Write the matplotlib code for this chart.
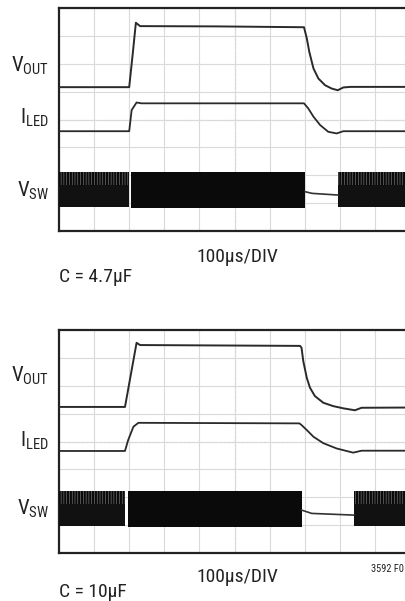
import numpy as np
import matplotlib
matplotlib.use('Agg')
import matplotlib.pyplot as plt

plt.rcParams['font.family'] = ['Roboto Condensed', 'DejaVu Sans']
plt.rcParams['mathtext.fontset'] = 'custom'
plt.rcParams['mathtext.rm'] = 'Roboto Condensed'
plt.rcParams['hatch.linewidth'] = 1.6

# ---- data (scope divisions: x 0..10, y 0..8) ----
# C = 4.7uF
vout1_x = [0, 2.0, 2.1, 2.19, 2.31, 4.5, 6.98, 7.06, 7.13, 7.25, 7.39, 7.58, 7.77, 7.94, 8.10, 8.3, 10.2]
vout1_y = [5.16, 5.16, 6.35, 7.47, 7.35, 7.34, 7.31, 6.91, 6.43, 5.83, 5.47, 5.23, 5.11, 5.05, 5.15, 5.17, 5.17]
iled1_x = [0, 2.0, 2.07, 2.21, 2.35, 6.98, 7.10, 7.25, 7.44, 7.67, 7.91, 8.10, 10.2]
iled1_y = [3.58, 3.58, 4.34, 4.61, 4.58, 4.58, 4.40, 4.10, 3.80, 3.56, 3.50, 3.58, 3.58]
vsw1_band = (0.87, 2.13)
vsw1_sparse = [(0, 2.0), (7.96, 10.2)]
vsw1_dense = [(2.05, 7.01)]
vsw1_off_x = [7.01, 7.21, 7.95]
vsw1_off_y = [1.41, 1.35, 1.29]

# C = 10uF
vout2_x = [0, 1.88, 2.21, 2.31, 6.87, 6.91, 6.96, 7.06, 7.15, 7.29, 7.53, 7.81, 8.10, 8.43, 8.62, 10.2]
vout2_y = [5.24, 5.24, 7.54, 7.46, 7.43, 7.36, 6.88, 6.28, 5.93, 5.63, 5.39, 5.27, 5.19, 5.12, 5.21, 5.22]
iled2_x = [0, 1.88, 1.97, 2.12, 2.26, 6.85, 6.91, 7.06, 7.25, 7.53, 7.91, 8.38, 8.62, 10.2]
iled2_y = [3.66, 3.66, 4.05, 4.53, 4.67, 4.65, 4.59, 4.41, 4.17, 3.94, 3.75, 3.60, 3.67, 3.67]
vsw2_band = (0.97, 2.22)
vsw2_sparse = [(0, 1.88), (8.40, 10.2)]
vsw2_dense = [(1.97, 6.91)]
vsw2_off_x = [6.91, 7.20, 8.40]
vsw2_off_y = [1.54, 1.42, 1.36]

W, H = 405, 601
fig = plt.figure(figsize=(W / 100, H / 100), dpi=100)


def px_ax(left, top, bottom, width=351):
    return fig.add_axes([left / W, 1 - bottom / H, width / W, (bottom - top) / H])


def scope(ax, vx, vy, ix, iy, band, sparse, dense, offx, offy):
    ax.set_xlim(0, 10)
    ax.set_ylim(0, 8)
    ax.set_xticks(np.arange(1, 10))
    ax.set_yticks(np.arange(1, 8))
    ax.tick_params(length=0, labelbottom=False, labelleft=False)
    ax.grid(True, color='#dadada', lw=0.8)
    ax.axvline(5, color='#a0a0a0', lw=0.8, ls=(0, (2, 2)), zorder=1)
    ax.axhline(4, color='#a0a0a0', lw=0.8, ls=(0, (2, 2)), zorder=1)
    for s in ax.spines.values():
        s.set_color('#222222')
        s.set_linewidth(1.6)

    lo, hi = band
    split = lo + 0.62 * (hi - lo)
    for a, b in sparse:
        ax.fill_between([a, b], lo, split, color='#111111', lw=0, zorder=3)
        ax.fill_between([a, b], split, hi, facecolor='#8a8a8a', edgecolor='#0a0a0a',
                        hatch='||||||', lw=0, zorder=3)
    for a, b in dense:
        ax.fill_between([a, b], lo - 0.03, hi, color='#0a0a0a', lw=0, zorder=3)
    ax.plot(offx, offy, color='#333333', lw=1.2, zorder=4)
    ax.plot(vx, vy, color='#2a2a2a', lw=1.4, zorder=4)
    ax.plot(ix, iy, color='#2a2a2a', lw=1.3, zorder=4)


ax1 = px_ax(59, 8, 231)
scope(ax1, vout1_x, vout1_y, iled1_x, iled1_y, vsw1_band, vsw1_sparse, vsw1_dense,
      vsw1_off_x, vsw1_off_y)
ax2 = px_ax(59, 330, 553)
scope(ax2, vout2_x, vout2_y, iled2_x, iled2_y, vsw2_band, vsw2_sparse, vsw2_dense,
      vsw2_off_x, vsw2_off_y)


def ftext(x, y, s, **kw):
    fig.text(x / W, 1 - y / H, s, color='#222222', **kw)


lab = dict(ha='right', va='baseline', fontsize=15)
ftext(49, 72, r'$\mathrm{V_{OUT}}$', **lab)
ftext(49, 124, r'$\mathrm{I_{LED}}$', **lab)
ftext(49, 197, r'$\mathrm{V_{SW}}$', **lab)
ftext(49, 382, r'$\mathrm{V_{OUT}}$', **lab)
ftext(49, 447, r'$\mathrm{I_{LED}}$', **lab)
ftext(49, 515, r'$\mathrm{V_{SW}}$', **lab)

ftext(237, 262, '100µs/DIV', ha='center', va='baseline', fontsize=14)
ftext(59, 282, 'C = 4.7µF', ha='left', va='baseline', fontsize=14)
ftext(237, 582, '100µs/DIV', ha='center', va='baseline', fontsize=14)
ftext(59, 597, 'C = 10µF', ha='left', va='baseline', fontsize=14)
ftext(371, 572, '3592 F0', ha='left', va='baseline', fontsize=7.5)

fig.savefig('out.png', dpi=100)
